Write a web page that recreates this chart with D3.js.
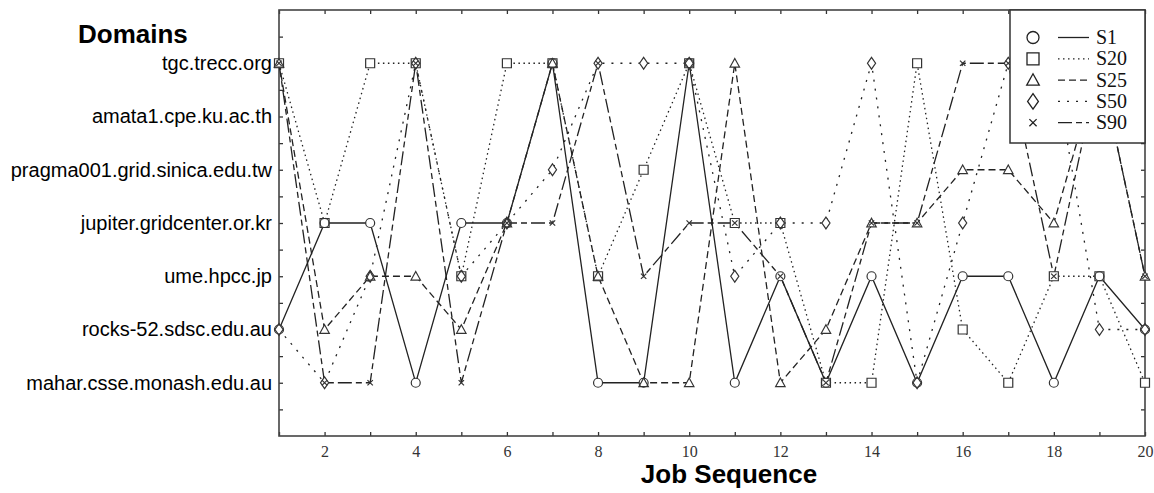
<!DOCTYPE html>
<html>
<head>
<meta charset="utf-8">
<script src="https://cdnjs.cloudflare.com/ajax/libs/d3/7.8.5/d3.min.js"></script>
<style>
  body { margin: 0; background: #fff; }
  svg { display: block; }
</style>
</head>
<body>
<svg width="1154" height="493"></svg>
<script>
// domains from bottom (level 1) to top (level 7)
var domains = [
    "mahar.csse.monash.edu.au",
    "rocks-52.sdsc.edu.au",
    "ume.hpcc.jp",
    "jupiter.gridcenter.or.kr",
    "pragma001.grid.sinica.edu.tw",
    "amata1.cpe.ku.ac.th",
    "tgc.trecc.org"
];
var jobs = d3.range(1, 21);
var xTickLabels = [2, 4, 6, 8, 10, 12, 14, 16, 18, 20];
var seriesNames = ["S1", "S20", "S25", "S50", "S90"];

// domain picked for each job, written with the host's first name part
var s1 = ["rocks","jupiter","jupiter","mahar","jupiter","jupiter","tgc","mahar","mahar","tgc",
          "mahar","ume","mahar","ume","mahar","ume","ume","mahar","ume","rocks"];
var s20 = ["tgc","jupiter","tgc","tgc","ume","tgc","tgc","ume","pragma001","tgc",
           "jupiter","jupiter","mahar","mahar","tgc","rocks","mahar","ume","ume","mahar"];
var s25 = ["tgc","rocks","ume","ume","rocks","jupiter","tgc","ume","mahar","mahar",
           "tgc","mahar","rocks","jupiter","jupiter","pragma001","pragma001","jupiter","tgc","ume"];
var s50 = ["rocks","mahar","ume","tgc","ume","jupiter","pragma001","tgc","tgc","tgc",
           "ume","jupiter","jupiter","tgc","mahar","jupiter","tgc","tgc","rocks","rocks"];
var s90 = ["tgc","mahar","mahar","tgc","mahar","jupiter","jupiter","tgc","ume","jupiter",
           "jupiter","ume","mahar","jupiter","jupiter","tgc","tgc","ume","tgc","ume"];

var seriesValues = [s1, s20, s25, s50, s90];
var markers = ["circle", "square", "triangle", "diamond", "cross"];
var dashes = [null, "1.5,3.5", "7,4", "2,7", "14,4,6,4"];

function level(key) {
    for (var i = 0; i < domains.length; i++) {
        if (domains[i].split(/[.\-]/)[0] == key) return i + 1;
    }
    return 0;
}

var svg = d3.select("svg");
var margin = {top: 10, right: 9, bottom: 57, left: 279},
    width = 1154 - margin.left - margin.right,
    height = 493 - margin.top - margin.bottom;

var g = svg.append("g").attr("transform", "translate(" + margin.left + "," + margin.top + ")");

var x = d3.scaleLinear().domain([1, 20]).range([0, width]);
var y = d3.scaleLinear().domain([0, 8]).range([height, 0]);

var halfLevels = d3.range(0.5, 8, 0.5);

// axes with inward ticks
var bottom = g.append("g")
    .attr("transform", "translate(0," + height + ")")
    .call(d3.axisBottom(x).tickValues(jobs).tickSize(-4).tickPadding(10)
        .tickFormat(function(d){ return xTickLabels.indexOf(d) >= 0 ? d : ""; }));
bottom.selectAll("text")
    .style("font-family", "'Liberation Serif', 'DejaVu Serif', serif")
    .style("font-size", "16px")
    .attr("fill", "#333");

g.append("g")
    .call(d3.axisTop(x).tickValues(jobs).tickSize(-4).tickFormat(""));

var left = g.append("g")
    .call(d3.axisLeft(y).tickValues(halfLevels).tickSize(-4).tickPadding(7)
        .tickFormat(function(d){ return (d % 1 == 0 && d >= 1 && d <= 7) ? domains[d - 1] : ""; }));
left.selectAll("text")
    .style("font-family", "'Liberation Sans', Arial, sans-serif")
    .style("font-size", "20px")
    .attr("fill", "#000");

g.append("g")
    .attr("transform", "translate(" + width + ",0)")
    .call(d3.axisRight(y).tickValues(halfLevels).tickSize(-4).tickFormat(""));

g.selectAll(".domain").remove();
g.selectAll(".tick line").attr("stroke", "#333").attr("stroke-width", 1.3);

// frame
g.append("rect")
    .attr("width", width).attr("height", height)
    .attr("fill", "none").attr("stroke", "#444").attr("stroke-width", 1.6);

// lines
var line = d3.line()
    .x(function(d, i){ return x(jobs[i]); })
    .y(function(d){ return y(level(d)); });

seriesValues.forEach(function(vals, k){
    g.append("path")
        .datum(vals)
        .attr("d", line)
        .attr("fill", "none")
        .attr("stroke", "#222")
        .attr("stroke-width", 1.3)
        .attr("stroke-dasharray", dashes[k]);
});

function markerPath(type, s) {
    var h = s / 2;
    if (type == "circle") {
        return d3.path ? "M" + (-h) + ",0A" + h + "," + h + " 0 1,0 " + h + ",0A" + h + "," + h + " 0 1,0 " + (-h) + ",0Z" : "";
    }
    if (type == "square") return "M" + (-h) + "," + (-h) + "H" + h + "V" + h + "H" + (-h) + "Z";
    if (type == "triangle") return "M0," + (-h * 1.05) + "L" + (h * 1.05) + "," + (h * 0.85) + "H" + (-h * 1.05) + "Z";
    if (type == "diamond") return "M0," + (-h * 1.3) + "L" + (h * 0.9) + ",0L0," + (h * 1.3) + "L" + (-h * 0.9) + ",0Z";
    if (type == "cross") return "M" + (-h * 0.6) + "," + (-h * 0.6) + "L" + (h * 0.6) + "," + (h * 0.6) +
        "M" + (h * 0.6) + "," + (-h * 0.6) + "L" + (-h * 0.6) + "," + (h * 0.6);
}

// marker fills first, outlines after, so overlapping symbols stay visible
var pts = [];
seriesValues.forEach(function(vals, k){
    vals.forEach(function(v, i){ pts.push({k: k, job: jobs[i], lev: level(v)}); });
});

g.selectAll(".mfill").data(pts.filter(function(d){ return markers[d.k] != "cross"; }))
    .enter().append("path")
    .attr("class", "mfill")
    .attr("transform", function(d){ return "translate(" + x(d.job) + "," + y(d.lev) + ")"; })
    .attr("d", function(d){ return markerPath(markers[d.k], 9); })
    .attr("fill", "#fff");

g.selectAll(".mline").data(pts)
    .enter().append("path")
    .attr("class", "mline")
    .attr("transform", function(d){ return "translate(" + x(d.job) + "," + y(d.lev) + ")"; })
    .attr("d", function(d){ return markerPath(markers[d.k], 9); })
    .attr("fill", "none")
    .attr("stroke", "#333")
    .attr("stroke-width", 1.2);

// legend
var lg = svg.append("g").attr("transform", "translate(1010,10)");
lg.append("rect")
    .attr("width", 135).attr("height", 133)
    .attr("fill", "#fff").attr("stroke", "#333").attr("stroke-width", 1.5);

var rows = lg.selectAll(".row").data(seriesNames)
    .enter().append("g")
    .attr("transform", function(d, i){ return "translate(0," + (27.5 + i * 21.3) + ")"; });

rows.append("path")
    .attr("transform", "translate(23,0)")
    .attr("d", function(d, i){ return markerPath(markers[i], 12); })
    .attr("fill", "none").attr("stroke", "#222").attr("stroke-width", 1.3);

rows.append("line")
    .attr("x1", 48).attr("x2", 79)
    .attr("stroke", "#222").attr("stroke-width", 1.3)
    .attr("stroke-dasharray", function(d, i){ return dashes[i]; });

rows.append("text")
    .attr("x", 86).attr("y", 6.5)
    .style("font-family", "'Liberation Serif', 'DejaVu Serif', serif")
    .style("font-size", "20px")
    .attr("fill", "#111")
    .text(function(d){ return d; });

// titles
svg.append("text")
    .attr("x", 78).attr("y", 43)
    .style("font-family", "'Liberation Sans', Arial, sans-serif")
    .style("font-size", "26px").style("font-weight", "bold")
    .text("Domains");

svg.append("text")
    .attr("x", 729).attr("y", 483)
    .attr("text-anchor", "middle")
    .style("font-family", "'Liberation Sans', Arial, sans-serif")
    .style("font-size", "26px").style("font-weight", "bold")
    .text("Job Sequence");
</script>
</body>
</html>
